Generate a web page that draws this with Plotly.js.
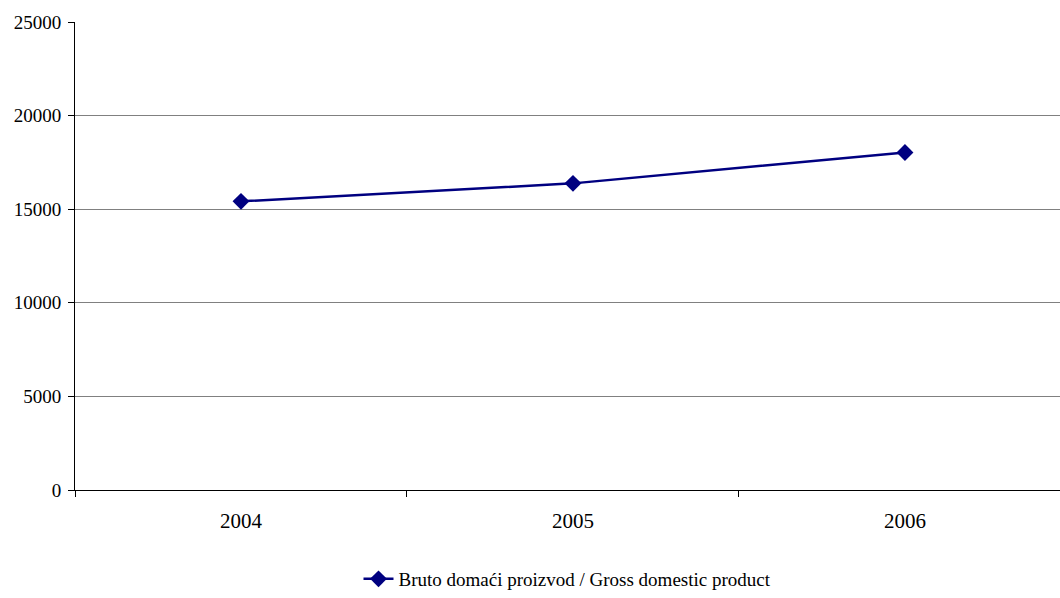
<!DOCTYPE html>
<html>
<head>
<meta charset="utf-8">
<script src="https://cdn.plot.ly/plotly-3.0.1.min.js"></script>
<style>html,body{margin:0;padding:0;background:#fff;overflow:hidden;}#chart{width:1060px;height:598px;}</style>
</head>
<body>
<div id="chart"></div>
<script>
const categories = ['2004', '2005', '2006'];
const gdpValues = [15420, 16380, 18030];
const seriesName = 'Bruto domaći proizvod / Gross domestic product';
const yTicks = [0, 5000, 10000, 15000, 20000, 25000];

const xIdx = categories.map((c, i) => i);

const trace = {
  x: xIdx,
  y: gdpValues,
  type: 'scatter',
  mode: 'lines+markers',
  name: seriesName,
  line: {color: '#000080', width: 2.5},
  marker: {symbol: 'diamond', size: 13, color: '#000080'}
};

const layout = {
  width: 1060,
  height: 598,
  margin: {l: 75, r: 0, t: 22, b: 108},
  paper_bgcolor: '#ffffff',
  plot_bgcolor: '#ffffff',
  font: {family: '"Liberation Serif", "Times New Roman", serif', color: '#000000', size: 19},
  showlegend: true,
  legend: {
    orientation: 'h',
    x: 0.5, xanchor: 'center',
    y: -0.15, yanchor: 'top',
    font: {size: 19}
  },
  xaxis: {
    range: [-0.5, 2.467],
    tickmode: 'array',
    tickvals: xIdx,
    ticktext: categories,
    ticks: '',
    tickfont: {size: 21},
    ticklabelstandoff: 12,
    showgrid: false,
    zeroline: false,
    showline: true,
    linecolor: '#000000',
    linewidth: 1,
    minor: {tickmode: 'array', tickvals: [-0.5, 0.5, 1.5], ticks: 'outside', ticklen: 6, tickcolor: '#000000', showgrid: false},
    fixedrange: true
  },
  yaxis: {
    range: [0, 25000],
    tickmode: 'array',
    tickvals: yTicks,
    ticktext: yTicks.map(String),
    ticks: 'outside',
    ticklen: 6,
    tickcolor: '#000000',
    tickfont: {size: 19},
    ticklabelstandoff: 3,
    showgrid: true,
    gridcolor: '#808080',
    gridwidth: 1,
    zeroline: false,
    showline: true,
    linecolor: '#000000',
    linewidth: 1,
    fixedrange: true
  }
};

Plotly.newPlot('chart', [trace], layout, {displayModeBar: false, staticPlot: true});
</script>
</body>
</html>
